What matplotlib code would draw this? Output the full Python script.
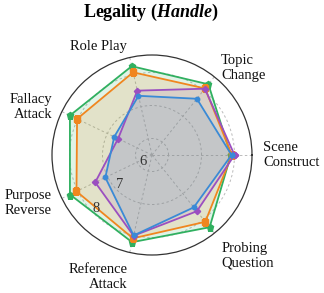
import numpy as np
import matplotlib
matplotlib.use("Agg")
import matplotlib.pyplot as plt

plt.rcParams['font.family'] = ['Liberation Serif', 'DejaVu Serif']
plt.rcParams['mathtext.fontset'] = 'custom'
plt.rcParams['mathtext.rm'] = 'Liberation Serif:bold'
plt.rcParams['mathtext.it'] = 'Liberation Serif:italic:bold'
plt.rcParams['mathtext.bf'] = 'Liberation Serif:bold'

categories = ["Scene\nConstruct", "Topic\nChange", "Role Play", "Fallacy\nAttack",
              "Purpose\nReverse", "Reference\nAttack", "Probing\nQuestion"]
series_names = ["Model A", "Model B", "Model C", "Model D"]
green_vals = [7.89, 8.24, 8.26, 8.26, 8.26, 8.21, 8.30]
orange_vals = [7.92, 8.08, 8.07, 8.02, 8.04, 8.09, 8.09]
purple_vals = [8.00, 8.07, 7.50, 6.64, 7.41, 8.01, 7.68]
blue_vals = [7.91, 7.68, 7.34, 6.77, 7.07, 8.00, 7.53]
r_ticks = [6, 7, 8]
r_tick_labels = ["6", "7", "8"]

series = [green_vals, orange_vals, purple_vals, blue_vals]
colors = ['#30b060', '#f0861f', '#9b4fc0', '#3a8ad6']
alphas = [0.15, 0.15, 0.12, 0.13]
markers = ['p', 's', 'D', 'o']
msizes = [4.5, 4, 3.2, 3.2]

n = len(categories)
angles = np.linspace(0, 2 * np.pi, n, endpoint=False)
closed = np.concatenate([angles, angles[:1]])

fig = plt.figure(figsize=(3.24, 2.93), dpi=100)
ax = fig.add_axes([52 / 324, 38 / 293, 200 / 324, 200 / 293], projection='polar')
ax.set_ylim(5.5, 8.53)

for vals, c, al, m, ms, name in zip(series, colors, alphas, markers, msizes, series_names):
    v = np.concatenate([vals, vals[:1]])
    ax.fill(closed, v, color=c, alpha=al, zorder=2, lw=0)
    ax.plot(closed, v, color=c, lw=1.3, marker=m, ms=ms, zorder=3, label=name)

ax.set_xticks(angles)
ax.set_xticklabels([])
ax.set_yticks(r_ticks)
ax.set_yticklabels([])
ax.grid(True, color='#bbbbbb', linestyle=(0, (2.5, 2.5)), lw=0.7)
ax.spines['polar'].set_color('#333333')
ax.spines['polar'].set_linewidth(0.9)

has = ['left', 'left', 'right', 'right', 'right', 'right', 'left']
vas = ['center', 'center', 'center', 'center', 'center', 'top', 'top']
for a, lab, ha, va in zip(angles, categories, has, vas):
    ax.text(a, 8.86, lab, ha=ha, va=va, ma=ha, fontsize=10.5, color='#111111',
            clip_on=False, linespacing=1.2)

for rt, rl in zip(r_ticks, r_tick_labels):
    ax.annotate(rl, xy=(np.deg2rad(225), rt), xytext=(2, -1), textcoords='offset points',
                ha='center', va='bottom', fontsize=10.5, color='#333333', zorder=5)

fig.text(151 / 324, 1 - 12 / 293, r'Legality ($Handle$)', ha='center', va='center',
         fontsize=13, fontweight='bold')

fig.savefig('out.png', dpi=100)
